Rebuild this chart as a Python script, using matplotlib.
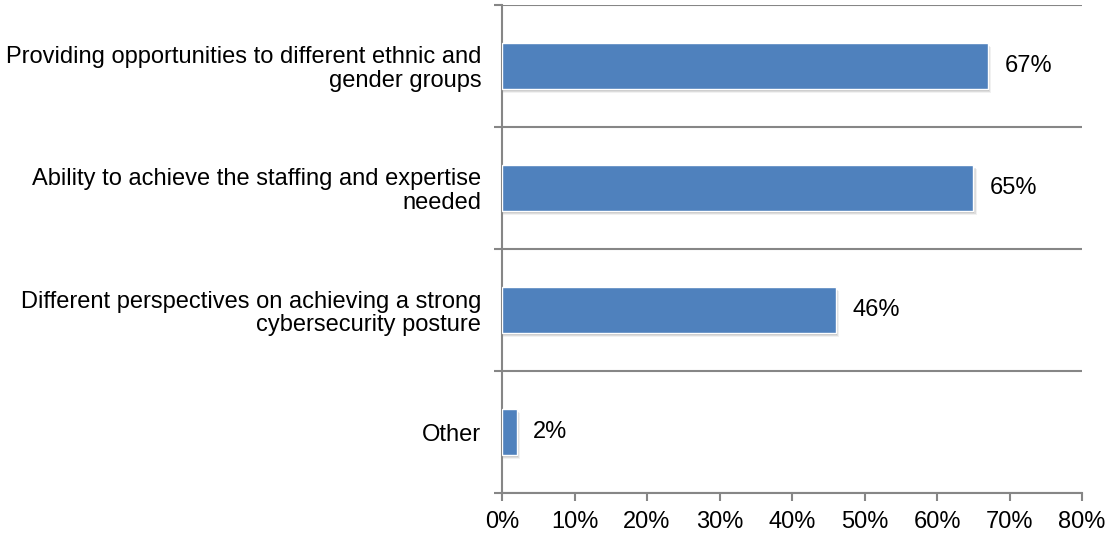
import numpy as np
import matplotlib.pyplot as plt
import matplotlib as mpl
from matplotlib.ticker import FixedLocator, PercentFormatter

mpl.rcParams.update({
    "font.family": ["Liberation Sans", "DejaVu Sans"],
    "font.size": 17,
})

# data
categories = [
    "Providing opportunities to different ethnic and\ngender groups",
    "Ability to achieve the staffing and expertise\nneeded",
    "Different perspectives on achieving a strong\ncybersecurity posture",
    "Other",
]
values = [67, 65, 46, 2]
x_ticks = [0, 10, 20, 30, 40, 50, 60, 70, 80]

bar_color = "#4F81BD"
line_color = "#868686"

fig = plt.figure(figsize=(11.06, 5.36), dpi=100)
ax = fig.add_axes([0.4539, 0.0802, 0.9783 - 0.4539, 0.9907 - 0.0802])

y = np.arange(len(categories))
h = 0.38

# soft drop shadow behind each bar
for dx, dy, a in [(0.5, 0.035, 0.10), (0.33, 0.023, 0.18), (0.17, 0.012, 0.25)]:
    ax.barh(y + dy, np.array(values) + dx, height=h, left=0,
            color="#7f7f7f", alpha=a, linewidth=0, zorder=2)
ax.barh(y, values, height=h, color=bar_color, edgecolor="white",
        linewidth=1.0, zorder=3)

for yi, v in zip(y, values):
    ax.text(v + 2.3, yi, f"{v}%", va="center", ha="left")

ax.set_xlim(0, 80)
ax.set_ylim(len(categories) - 0.5, -0.5)
ax.set_xticks(x_ticks)
ax.xaxis.set_major_formatter(PercentFormatter(decimals=0))

ax.set_yticks(y)
ax.set_yticklabels(categories, ha="right", linespacing=1.1)
ax.yaxis.set_minor_locator(FixedLocator(np.arange(-0.5, len(categories), 1.0)))
ax.tick_params(axis="y", which="major", length=0, pad=15)
ax.tick_params(axis="y", which="minor", length=6, width=1.5, color=line_color)
ax.tick_params(axis="x", length=6, width=1.5, color=line_color, pad=7)
ax.grid(axis="y", which="minor", color=line_color, linewidth=1.5, zorder=1)
ax.set_axisbelow(True)

for side in ["top", "right"]:
    ax.spines[side].set_visible(False)
for side in ["left", "bottom"]:
    ax.spines[side].set_color(line_color)
    ax.spines[side].set_linewidth(1.5)

fig.savefig("out.png", dpi=100)
